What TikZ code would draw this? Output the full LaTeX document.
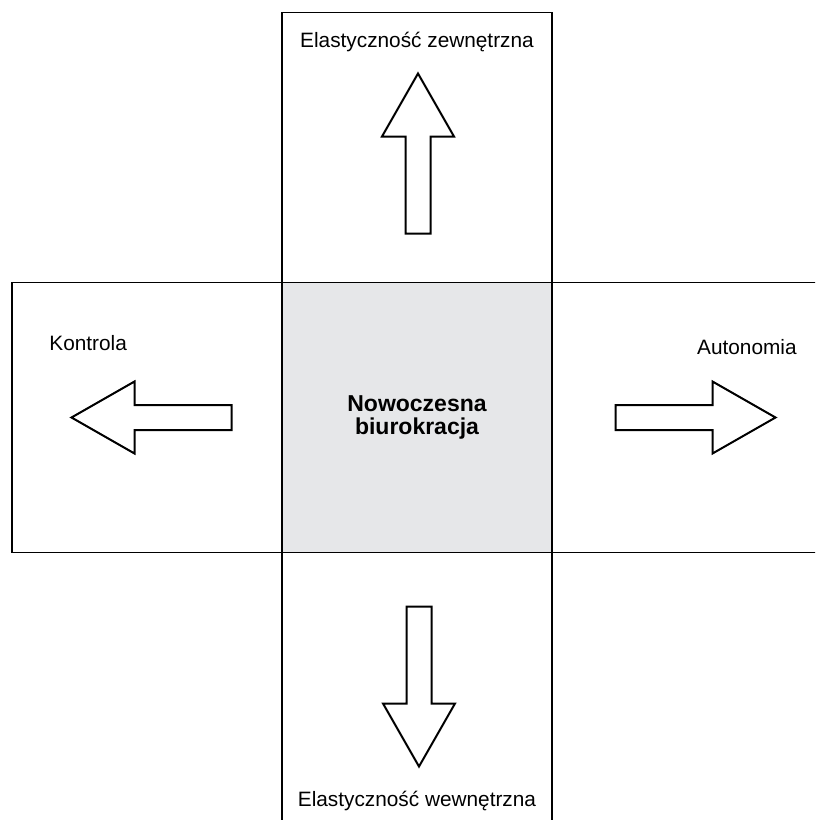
\documentclass[tikz,border=0pt]{standalone}
\usepackage{fontspec}
\setmainfont{Liberation Sans}
\usetikzlibrary{positioning,calc}
\definecolor{coregray}{RGB}{230,231,233}

\begin{document}
\begin{tikzpicture}[x=0.5pt,y=0.5pt,
  box/.style={draw,line width=0.8pt,minimum size=135pt,inner sep=0pt,outer sep=0pt},
  lab/.style={inner sep=0pt,font=\fontsize{10.4}{12}\selectfont},
  fatarrow/.pic={
    \draw[line width=1pt,fill=white] (-80,-12.5) -- (17,-12.5) -- (17,-36) -- (80,0)
      -- (17,36) -- (17,12.5) -- (-80,12.5) -- cycle;
  }]
  \useasboundingbox (0,0) rectangle (815,-820);
  \clip (0,0) rectangle (815,-820);
  % the four boxes round the core
  \node[box,fill=coregray,align=center,font=\bfseries\fontsize{11.5}{11.5}\selectfont] (core) at (417,-417.5) {Nowoczesna\\biurokracja};
  \node[box,above=0pt of core] (top) {};
  \node[box,below=0pt of core] (bottom) {};
  \node[box,left=0pt of core] (left) {};
  \node[box,right=0pt of core] (right) {};
  % labels
  \node[lab,anchor=base] (toplab) at ($(top.north)+(0,-35)$) {Elastyczność zewnętrzna};
  \node[lab,anchor=base] (bottomlab) at ($(bottom.north)+(0,-254)$) {Elastyczność wewnętrzna};
  \node[lab,anchor=base west] (leftlab) at ($(left.north west)+(37,-68)$) {Kontrola};
  \node[lab,anchor=base east] (rightlab) at ($(right.north west)+(245,-72)$) {Autonomia};
  % arrows
  \pic[rotate=90] at ($(top.center)+(1,-6)$) {fatarrow};
  \pic[rotate=270] at ($(bottom.center)+(2,1)$) {fatarrow};
  \pic[rotate=180] at ($(left.center)+(4.5,0)$) {fatarrow};
  \pic at ($(right.center)+(8.5,0)$) {fatarrow};
\end{tikzpicture}
\end{document}
